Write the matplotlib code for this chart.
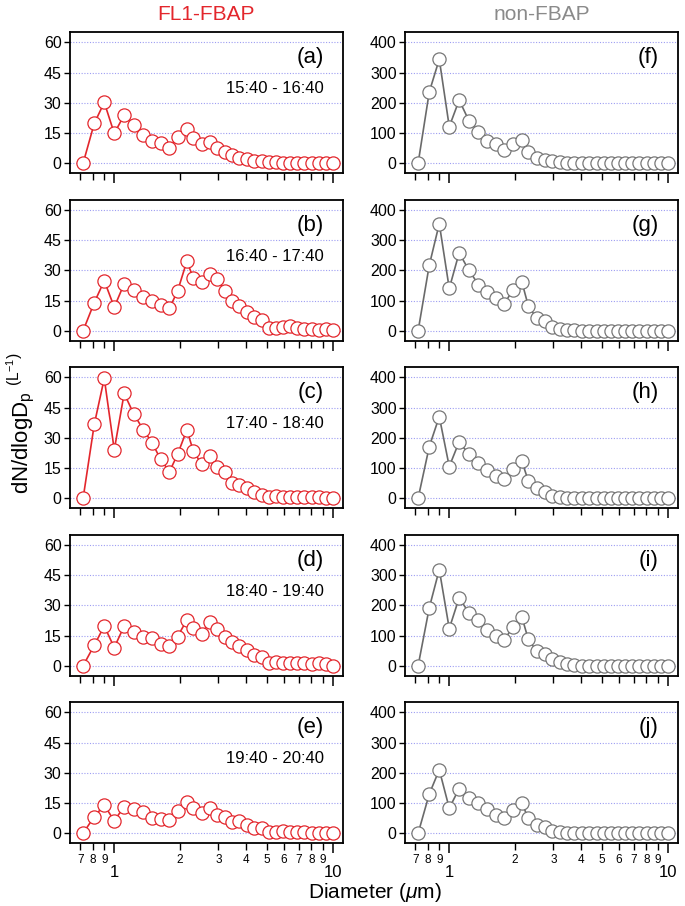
import matplotlib
matplotlib.use("Agg")
from matplotlib import pyplot as plt
from matplotlib.ticker import FixedLocator, FixedFormatter, NullFormatter

plt.rcParams['font.family'] = ['Liberation Sans', 'DejaVu Sans']
plt.rcParams['mathtext.fontset'] = 'custom'
plt.rcParams['mathtext.rm'] = 'Liberation Sans'
plt.rcParams['mathtext.it'] = 'Liberation Sans:italic'

# bin diameters (um)
diam = [0.72, 0.81, 0.90, 1.0, 1.11, 1.23, 1.36, 1.49, 1.63, 1.79, 1.95, 2.15,
        2.30, 2.51, 2.74, 2.96, 3.21, 3.47, 3.74, 4.04, 4.36, 4.73, 5.09, 5.52,
        5.94, 6.38, 6.89, 7.42, 8.02, 8.63, 9.33, 10.0]

# FL1-FBAP, dN/dlogDp (L^-1)
fbap_a = [0, 19.8, 30.2, 14.8, 23.9, 19, 14, 11, 9.9, 7.7, 13.2, 17, 12.4, 9.6, 10.7, 7.4,
          5.8, 4.1, 2.8, 2.1, 1.3, 1.0, 0.4, 0.4, 0.3, 0.2, 0.2, 0.2, 0.1, 0.1, 0.1, 0.1]
fbap_b = [0, 14, 24.8, 11.7, 23.3, 20.2, 16.9, 14.8, 12.8, 11.2, 19.7, 34.5, 26.3, 24, 28, 25.5,
          19.7, 14.8, 12.3, 9.5, 6.6, 5.4, 1.3, 1.6, 1.8, 2.1, 1.3, 1.0, 0.8, 0.5, 0.8, 0.5]
fbap_c = [0, 36.7, 59.5, 24, 52, 41.7, 33.9, 27.6, 19.3, 13.2, 21.8, 33.9, 23.6, 16.9, 21, 15.7,
          13.2, 7.8, 6.6, 5, 3.3, 1.7, 0.8, 1.2, 0.8, 0.8, 0.8, 0.5, 0.5, 0.5, 0.3, 0.2]
fbap_d = [0, 10.2, 19.7, 9, 19.7, 16.9, 14.3, 13.6, 11, 9.9, 14.5, 22.7, 18.9, 15.9, 21.7, 18.4,
          14.5, 11.8, 9.9, 7.7, 5.3, 4.1, 1.3, 2, 1.6, 1.3, 1.3, 1.6, 0.8, 1.2, 0.8, 0]
fbap_e = [0, 8.3, 13.9, 6.2, 13.2, 11.9, 10.3, 7.8, 7.3, 6.5, 10.8, 15.7, 12.7, 9.8, 12.4, 9,
          8.2, 5.7, 6.2, 4.2, 2.4, 2.4, 0.8, 0.5, 1, 0.5, 0.5, 0.5, 0.3, 0.2, 0.2, 0]

# non-FBAP
non_f = [0, 236, 344, 121, 209, 141, 104, 75, 63, 44, 64, 77, 38, 16, 11, 6,
         3, 2, 1, 1, 1, 1, 0.5, 0.5, 0.5, 0.5, 0.5, 0.5, 0.5, 0.5, 0.5, 0.5]
non_g = [0, 217, 354, 140, 258, 200, 153, 129, 110, 89, 135, 162, 83, 42, 31, 14,
         7, 3, 2, 1, 1, 1, 1, 0.5, 0.5, 0.5, 0.5, 0.5, 0.5, 0.5, 0.5, 0.5]
non_h = [0, 171, 270, 105, 187, 145, 118, 94, 74, 64, 97, 123, 58, 33, 22, 9,
         5.5, 2, 1, 1, 1, 1, 0.5, 0.5, 0.5, 0.5, 0.5, 0.5, 0.5, 0.5, 0.5, 0.5]
non_i = [0, 192, 318, 123, 225, 175, 153, 118, 99, 85, 129, 162, 88, 49, 38, 22,
         11, 5.5, 2, 1, 1, 1, 0.5, 0.5, 0.5, 0.5, 0.5, 0.5, 0.5, 0.5, 0.5, 0.5]
non_j = [0, 130, 210, 83, 148, 117, 99, 79, 60, 50, 76, 101, 49, 27, 20, 9,
         3, 1, 1, 0.5, 0.5, 0.5, 0.5, 0.5, 0.5, 0.5, 0.5, 0.5, 0.5, 0.5, 0.5, 0.5]

fbap = [fbap_a, fbap_b, fbap_c, fbap_d, fbap_e]
nonfbap = [non_f, non_g, non_h, non_i, non_j]
times = ["15:40 - 16:40", "16:40 - 17:40", "17:40 - 18:40", "18:40 - 19:40", "19:40 - 20:40"]
left_tags = ["(a)", "(b)", "(c)", "(d)", "(e)"]
right_tags = ["(f)", "(g)", "(h)", "(i)", "(j)"]

red = "#e3262c"
gray_line = "#6a6a6a"
gray_mk = "#777777"
grid_col = "#9d9df2"

minor_pos = [0.7, 0.8, 0.9, 2, 3, 4, 5, 6, 7, 8, 9]
minor_lab = ["7", "8", "9", "2", "3", "4", "5", "6", "7", "8", "9"]

fig = plt.figure(figsize=(6.85, 9.06), dpi=100)

ax_h = 141 / 906
step = 167.5 / 906
top0 = 1 - 32.3 / 906
ax_w = 273 / 685
lefts = [70 / 685, 405 / 685]


def style_axis(ax, yticks, ylim, bottom):
    ax.set_xscale("log")
    ax.set_xlim(0.627, 11.16)
    ax.set_ylim(*ylim)
    ax.set_yticks(yticks)
    ax.yaxis.grid(True, linestyle=(0, (1, 1.5)), color=grid_col, linewidth=0.8)
    ax.set_axisbelow(True)
    for s in ax.spines.values():
        s.set_linewidth(1.3)
    ax.xaxis.set_major_locator(FixedLocator([1, 10]))
    ax.xaxis.set_minor_locator(FixedLocator(minor_pos))
    ax.tick_params(axis="y", direction="out", length=4, width=1, labelsize=11.5, pad=2)
    ax.tick_params(axis="x", which="major", direction="out", length=7.5, width=1.1,
                   labelsize=12, pad=8)
    ax.tick_params(axis="x", which="minor", direction="out", length=5, width=1,
                   labelsize=8.5, pad=2.5)
    if bottom:
        ax.xaxis.set_major_formatter(FixedFormatter(["1", "10"]))
        ax.xaxis.set_minor_formatter(FixedFormatter(minor_lab))
    else:
        ax.xaxis.set_major_formatter(NullFormatter())
        ax.xaxis.set_minor_formatter(NullFormatter())


for i in range(5):
    bottom = top0 - ax_h - i * step
    axl = fig.add_axes([lefts[0], bottom, ax_w, ax_h])
    axl.plot(diam, fbap[i], "-o", color=red, linewidth=1.2, markersize=9.5,
             markerfacecolor="white", markeredgecolor=red, markeredgewidth=0.9, zorder=3)
    style_axis(axl, [0, 15, 30, 45, 60], (-5, 65), i == 4)
    axl.text(0.93, 0.82, left_tags[i], transform=axl.transAxes, ha="right", va="center",
             fontsize=16)
    axl.text(0.93, 0.60, times[i], transform=axl.transAxes, ha="right", va="center",
             fontsize=12)

    axr = fig.add_axes([lefts[1], bottom, ax_w, ax_h])
    axr.plot(diam, nonfbap[i], "-o", color=gray_line, linewidth=1.2, markersize=9.5,
             markerfacecolor="white", markeredgecolor=gray_mk, markeredgewidth=0.9, zorder=3)
    style_axis(axr, [0, 100, 200, 300, 400], (-33, 433), i == 4)
    axr.text(0.93, 0.82, right_tags[i], transform=axr.transAxes, ha="right", va="center",
             fontsize=16)

fig.text(lefts[0] + ax_w / 2, 1 - 15 / 906, "FL1-FBAP", color=red, fontsize=15,
         ha="center", va="center")
fig.text(lefts[1] + ax_w / 2, 1 - 15 / 906, "non-FBAP", color="#8a8a8a", fontsize=15,
         ha="center", va="center")
fig.text(0.032, 0.533, r"dN/dlogD$_\mathregular{p}$ $^{\mathregular{(L^{-1})}}$",
         rotation=90, fontsize=16, ha="center", va="center")
fig.text(0.547, 0.0145, r"Diameter ($\mathit{\mu}$m)", fontsize=15, ha="center", va="center")

fig.savefig("out.png", dpi=100)
